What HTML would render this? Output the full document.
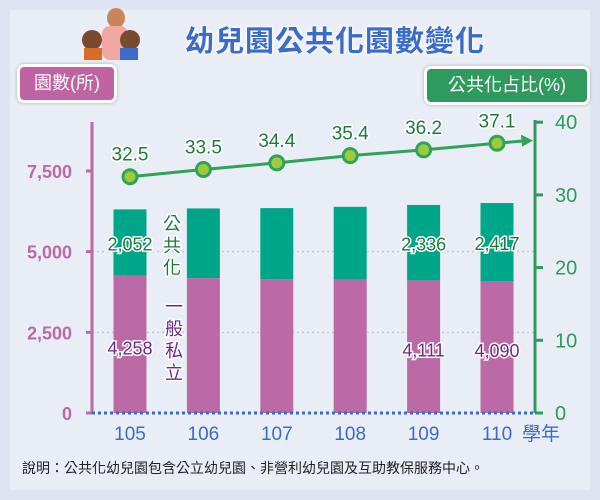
<!DOCTYPE html>
<html><head><meta charset="utf-8"><style>
body{margin:0;width:600px;height:500px;overflow:hidden;background:#dfe5f0;font-family:"Liberation Sans","Noto Sans CJK TC",sans-serif;}
#wrap{position:absolute;left:10px;top:10px;width:580px;height:480px;background:#e9edf5;}
.box{position:absolute;color:#fff;font-size:18px;border:3px solid #fff;border-radius:7px;text-align:center;box-shadow:0 0 3px #aaa;}
</style></head><body>
<div id="wrap"></div>
<div style="position:absolute;left:185px;top:18px;font-size:29px;color:#3a6cc8;font-weight:bold;letter-spacing:1px;text-shadow:0 0 4px #fff,0 0 4px #fff;">幼兒園公共化園數變化</div>
<div style="position:absolute;left:80px;top:8px;width:60px;height:52px;">
<div style="position:absolute;left:27px;top:0;width:18px;height:20px;border-radius:50%;background:#c9855a"></div>
<div style="position:absolute;left:22px;top:18px;width:26px;height:34px;border-radius:8px;background:#f1a8a0"></div>
<div style="position:absolute;left:2px;top:22px;width:20px;height:20px;border-radius:50%;background:#7a4a30"></div>
<div style="position:absolute;left:4px;top:40px;width:18px;height:12px;background:#d86a2a"></div>
<div style="position:absolute;left:40px;top:22px;width:20px;height:20px;border-radius:50%;background:#7a4a30"></div>
<div style="position:absolute;left:40px;top:40px;width:18px;height:12px;background:#3a6cc8"></div>
</div>
<div class="box" style="left:17px;top:64px;width:94px;height:33px;line-height:33px;background:#bf63a3;">園數(所)</div>
<div class="box" style="left:424px;top:66px;width:160px;height:33px;line-height:33px;background:#2f9a5e;">公共化占比(%)</div>
<svg width="600" height="500" style="position:absolute;left:0;top:0">
<g id="g"></g>
</svg>
<div style="position:absolute;left:22px;top:458px;font-size:14px;color:#222;">說明：公共化幼兒園包含公立幼兒園、非營利幼兒園及互助教保服務中心。</div>
<script>
const categories=["105","106","107","108","109","110"];
const privateVals=[4258,4180,4150,4130,4111,4090];
const publicVals=[2052,2160,2200,2260,2336,2417];
const pctVals=[32.5,33.5,34.4,35.4,36.2,37.1];
const leftTicks=[0,2500,5000,7500];
const leftTickLabels=["0","2,500","5,000","7,500"];
const rightTicks=[0,10,20,30,40];
const NS="http://www.w3.org/2000/svg";
const g=document.getElementById('g');
const base=413;
const yL=v=>base-v*0.03227;
const yR=v=>base-v*7.27;
const xC=i=>130+i*73.4;
function mk(t,a,txt){const e=document.createElementNS(NS,t);for(const k in a)e.setAttribute(k,a[k]);if(txt!==undefined)e.textContent=txt;g.appendChild(e);return e;}
leftTicks.slice(1,3).forEach(v=>{const e=mk('line',{x1:92,x2:535,y1:yL(v),y2:yL(v),stroke:'#c8c8c8','stroke-width':1.5,'stroke-dasharray':'2,3'});

});
categories.forEach((c,i)=>{
 const p=mk('rect',{x:xC(i)-16.5,y:yL(privateVals[i]),width:33,height:base-yL(privateVals[i]),fill:'#bb6aa5'});
 
 
 const q=mk('rect',{x:xC(i)-16.5,y:yL(privateVals[i]+publicVals[i]),width:33,height:yL(privateVals[i])-yL(privateVals[i]+publicVals[i]),fill:'#00a689'});
 
 
 const t=mk('text',{x:xC(i),y:440,'text-anchor':'middle','font-size':19,fill:'#3a6cc8'},c);
 
 
});
const unit=mk('text',{x:522,y:440,'font-size':19,fill:'#3a6cc8'},'學年');


[0,4,5].forEach(i=>{
 const a=mk('text',{x:xC(i),y:(yL(privateVals[i])+yL(privateVals[i]+publicVals[i]))/2+8,'text-anchor':'middle','font-size':18,fill:'#1e7a3c',stroke:'#fff','stroke-width':3,'paint-order':'stroke'},publicVals[i].toLocaleString('en-US'));
 
 
 const b=mk('text',{x:xC(i),y:(base+yL(privateVals[i]))/2+10,'text-anchor':'middle','font-size':18,fill:'#6a2a8a',stroke:'#fff','stroke-width':3,'paint-order':'stroke'},privateVals[i].toLocaleString('en-US'));
 
 
});
['公','共','化'].forEach((ch,k)=>{const e=mk('text',{x:172,y:230+k*22,'text-anchor':'middle','font-size':18,fill:'#1e7a3c',stroke:'#fff','stroke-width':3,'paint-order':'stroke'},ch);

});
['一','般','私','立'].forEach((ch,k)=>{const e=mk('text',{x:174,y:313+k*22,'text-anchor':'middle','font-size':18,fill:'#6a2a8a',stroke:'#fff','stroke-width':3,'paint-order':'stroke'},ch);

});
const la=mk('line',{x1:92,x2:92,y1:122,y2:413,stroke:'#bb6aa5','stroke-width':3});


leftTicks.forEach((v,k)=>{mk('line',{x1:86,x2:92,y1:yL(v),y2:yL(v),stroke:'#bb6aa5','stroke-width':3});
 const t=mk('text',{x:72,y:yL(v)+7,'text-anchor':'end','font-size':18,'font-weight':'bold',fill:'#bb6aa5'},leftTickLabels[k]);
 
 });
const ra=mk('line',{x1:535,x2:535,y1:120,y2:413,stroke:'#2f9a5e','stroke-width':3});


rightTicks.forEach(v=>{mk('line',{x1:535,x2:543,y1:yR(v),y2:yR(v),stroke:'#2f9a5e','stroke-width':3});
 const t=mk('text',{x:555,y:yR(v)+7,'font-size':20,fill:'#2f9a5e'},String(v));
 
 });
const bl=mk('line',{x1:92,x2:535,y1:413,y2:413,stroke:'#3a6cc8','stroke-width':3,'stroke-dasharray':'3,3'});


const n=pctVals.length;
const lx2=xC(n-1)+30, ly2=yR(pctVals[n-1])-(yR(pctVals[n-2])-yR(pctVals[n-1]))*30/73.4;
const pts=pctVals.map((v,i)=>xC(i)+','+yR(v)).join(' ')+' '+lx2+','+ly2;
const pl=mk('polyline',{points:pts,fill:'none',stroke:'#2fa35a','stroke-width':3});


const ar=mk('polygon',{points:(lx2+6)+','+ly2+' '+(lx2-6)+','+(ly2-6)+' '+(lx2-5)+','+(ly2+6),fill:'#2fa35a'});


pctVals.forEach((v,i)=>{
 const c=mk('circle',{cx:xC(i),cy:yR(v),r:7,fill:'#9ccc3c',stroke:'#2fa35a','stroke-width':3});
 
 
 const t=mk('text',{x:xC(i),y:yR(v)-16,'text-anchor':'middle','font-size':19,fill:'#1e7a3c',stroke:'#fff','stroke-width':3,'paint-order':'stroke'},v.toFixed(1));
 
 
});
</script>
</body></html>
